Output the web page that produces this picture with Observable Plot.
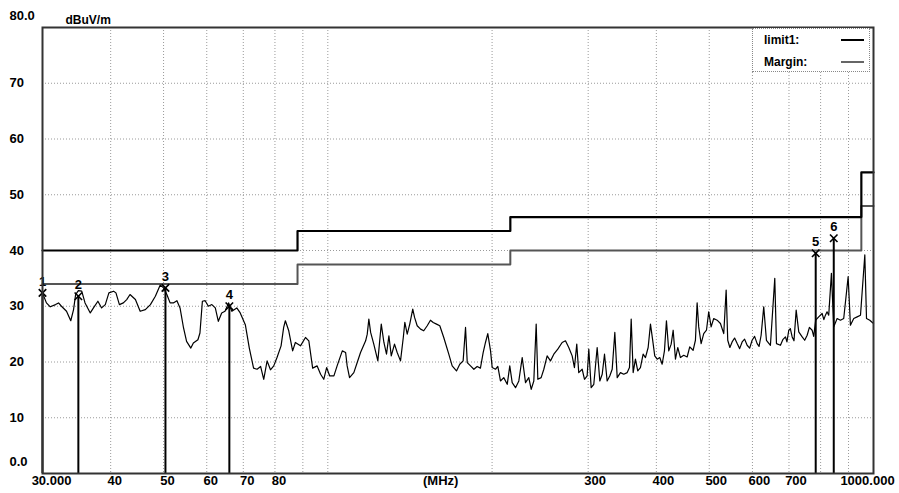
<!DOCTYPE html>
<html><head><meta charset="utf-8">
<script src="https://cdn.jsdelivr.net/npm/d3@7"></script>
<script src="https://cdn.jsdelivr.net/npm/@observablehq/plot@0.6"></script>
<style>
body{margin:0;background:#fff;}
#wrap{position:relative;width:899px;height:493px;font-family:"Liberation Sans",Arial,sans-serif;}
#legend{position:absolute;left:752px;top:28px;width:116px;height:42px;border:1px dotted #888;background:#fff;font-weight:bold;font-size:12px;}
#legend .row{position:absolute;left:11px;}
#legend .sw{position:absolute;left:88px;width:23px;}
</style></head><body>
<div id="wrap"><div id="chart"></div>
<div id="legend">
 <div class="row" style="top:4px">limit1:</div><div class="sw" style="top:10px;border-top:2px solid #000"></div>
 <div class="row" style="top:26px">Margin:</div><div class="sw" style="top:32px;border-top:2px solid #666"></div>
</div></div>
<script>
// ---- data ----
const traceFreq = [
30.0,30.5,31.0,31.7,32.1,32.5,33.2,33.8,34.2,34.5,34.9,35.4,35.9,36.7,37.2,37.9,38.5,39.1,39.7,40.5,
40.9,41.5,42.2,42.8,43.4,44.4,45.3,46.3,47.3,48.3,49.3,50.0,50.7,51.4,52.1,52.9,53.6,54.4,55.1,56.1,
56.7,57.8,58.3,58.9,59.6,60.4,61.3,62.2,63.0,63.9,64.8,65.8,66.7,68.1,69.1,70.6,71.8,73.1,
74.2,75.3,76.3,77.4,78.5,79.6,80.7,82.1,83.0,83.6,84.8,86.2,87.2,89.1,91.0,92.3,93.8,95.6,97.0,98.3,
99.5,100.8,102.6,104.0,106.3,107.8,108.5,109.6,111.6,113.2,114.8,117.3,118.1,118.9,119.8,121.4,123.5,125.3,126.7,128.1,
129.4,130.7,132.5,134.0,135.9,137.5,138.4,139.8,141.3,143.1,144.2,145.8,147.9,149.9,152.1,154.2,156.0,158.2,160.4,163.1,
166.6,169.0,172.1,174.5,177.0,178.8,
180.1,182.6,185.2,187.8,190.4,192.6,194.5,196.4,198.7,200.1,202.9,204.9,207.2,210.1,213.2,215.5,217.7,220.8,223.9,227.1,
230.3,233.5,235.9,238.5,240.9,242.6,246.0,248.8,252.3,255.9,259.5,263.9,268.8,272.6,276.4,280.4,283.1,285.9,288.3,292.5,
295.4,298.7,300.8,303.8,307.2,311.6,315.1,318.3,321.4,325.0,328.6,332.0,335.7,339.1,343.8,348.6,353.7,357.1,359.7,362.7,
366.2,369.8,374.0,378.3,382.0,386.4,390.2,394.0,397.3,401.4,405.8,409.9,413.9,417.4,421.5,425.8,429.4,433.6,437.8,442.8,
449.0,455.5,460.5,467.1,471.7,475.1,478.3,483.2,488.5,494.2,498.9,504.0,509.6,516.9,524.2,531.6,537.0,540.6,545.5,550.7,
556.5,562.6,568.5,574.5,580.5,586.7,593.0,599.2,605.5,612.0,617.0,622.4,629.3,636.5,647.3,659.3,664.0,675.3,682.0,689.7,
694.0,699.4,704.0,709.5,715.0,721.6,729.5,740.1,748.0,755.8,763.0,771.8,777.0,783.6,793.6,805.1,811.0,816.4,822.0,827.8,
837.3,845.6,857.7,869.8,881.9,898.5,907.2,920.0,933.3,946.6,964.0,970.9,984.5,1000
];
const traceLevel = [
32.4,30.6,29.9,30.3,30.6,30.0,29.1,27.4,29.4,32.1,32.8,32.7,30.6,28.8,29.7,30.9,29.7,30.3,32.4,32.7,
32.4,30.3,30.6,31.2,32.1,31.2,29.1,29.4,30.3,31.8,33.8,33.3,32.1,30.6,30.6,31.0,29.7,26.1,23.7,22.5,
23.4,24.0,25.2,30.9,31.0,30.0,30.3,29.7,27.3,28.8,29.1,30.6,29.1,29.7,28.8,26.7,22.5,18.9,
18.7,19.2,16.9,20.2,18.6,19.3,20.8,22.9,26.2,27.4,25.6,22.0,23.5,22.9,24.4,23.8,18.9,19.3,17.8,16.9,
19.0,17.5,17.5,19.3,22.0,21.7,19.3,17.2,18.1,19.9,21.7,23.8,25.0,27.7,25.3,23.2,20.2,26.8,23.5,21.4,
24.7,21.1,23.2,21.7,20.2,24.4,27.1,25.0,26.8,29.5,28.0,26.5,25.9,25.6,26.5,27.5,27.1,26.8,26.5,24.4,
21.4,19.3,18.4,19.6,20.2,26.2,
19.9,19.3,18.7,19.2,18.9,21.7,23.5,25.1,22.0,19.0,18.7,19.2,16.6,17.2,16.0,19.3,16.3,15.4,16.6,20.8,
16.3,17.2,15.1,16.6,26.8,16.9,17.2,18.7,21.1,20.2,21.4,22.3,23.5,23.8,22.6,21.1,19.0,23.2,18.1,18.7,
16.9,17.5,22.3,15.4,16.0,22.6,16.6,17.8,21.4,16.6,17.5,18.7,25.3,17.2,18.1,17.8,18.1,19.0,27.7,18.1,
20.5,18.4,19.0,21.4,20.8,22.6,26.8,23.8,21.1,20.5,20.8,19.6,22.0,27.4,22.0,23.2,25.7,20.5,22.6,20.8,
21.2,20.9,22.7,22.1,23.9,30.6,26.3,23.3,25.1,25.7,29.0,26.3,27.8,27.5,26.9,25.1,32.9,23.9,22.6,23.6,
24.3,23.3,22.4,23.6,24.1,23.0,22.5,23.9,24.6,23.3,22.8,24.8,29.9,23.9,23.0,35.0,23.3,23.0,24.0,24.5,
23.6,25.7,26.0,24.5,23.8,29.3,25.4,24.5,23.9,24.8,26.2,25.7,24.6,27.5,28.1,28.7,27.6,28.4,29.0,28.4,
35.9,26.3,27.8,27.5,27.8,35.3,26.6,27.8,28.1,28.4,39.2,27.8,27.5,26.9
];
const limitFreq = [30, 88, 216, 950, 1000];
const limit1Level = [40, 43.5, 46, 54, 54];
const marginLevel = [34, 37.5, 40, 48, 48];
const markerNo = [1, 2, 3, 4, 5, 6];
const markerFreq = [30.0, 34.9, 50.4, 66.0, 783.6, 845.6];
const markerLevel = [32.4, 31.8, 33.3, 30.0, 39.5, 42.2];
const xGrid = [40, 50, 60, 70, 80, 90, 100, 200, 300, 400, 500, 600, 700, 800, 900];
const yGrid = [10, 20, 30, 40, 50, 60, 70];
const xTickValues = [30, 40, 50, 60, 70, 80, 300, 400, 500, 600, 700, 1000];
const xTickLabels = ["30.000", "40", "50", "60", "70", "80", "300", "400", "500", "600", "700", "1000.000"];
const yTickValues = [80, 70, 60, 50, 40, 30, 20, 10, 0];
const yTickLabels = ["80.0", "70", "60", "50", "40", "30", "20", "10", "0.0"];
const xUnit = [{f: 161, label: "(MHz)"}];
const yUnit = ["dBuV/m"];

// ---- tables ----
const trace = traceFreq.map((f, i) => ({f, v: traceLevel[i]}));
const limits = limitFreq.map((f, i) => ({f, l: limit1Level[i], m: marginLevel[i]}));
const markers = markerNo.map((n, i) => ({n, f: markerFreq[i], v: markerLevel[i]}));
const xTicks = xTickValues.map((v, i) => ({v, label: xTickLabels[i]}));
const yTicks = yTickValues.map((v, i) => ({v, label: yTickLabels[i]}));
const xdx = v => v === 30 ? 9 : v === 1000 ? -6 : v >= 300 ? 7 : 4;
const ydy = v => v === 80 ? -12 : v === 0 ? -12 : 0;

const font = {fontWeight: "bold", fill: "#000"};
const chart = Plot.plot({
  width: 899, height: 493,
  marginLeft: 42, marginRight: 26, marginTop: 27, marginBottom: 20,
  style: {fontFamily: "'Liberation Sans', Arial, sans-serif", background: "#fff", overflow: "visible"},
  x: {type: "log", domain: [30, 1000], axis: null},
  y: {domain: [0, 80], axis: null},
  marks: [
    Plot.ruleX(xGrid, {stroke: "#9a9a9a", strokeDasharray: "1,2", strokeWidth: 1}),
    Plot.ruleY(yGrid, {stroke: "#9a9a9a", strokeDasharray: "1,2", strokeWidth: 1}),
    Plot.line(limits, {x: "f", y: "m", curve: "step-after", stroke: "#555", strokeWidth: 2}),
    Plot.line(limits, {x: "f", y: "l", curve: "step-after", stroke: "#000", strokeWidth: 2.2}),
    Plot.line(trace, {x: "f", y: "v", stroke: "#000", strokeWidth: 1.2}),
    Plot.ruleX(markers, {x: "f", y1: 0, y2: "v", stroke: "#000", strokeWidth: 2}),
    Plot.dot(markers, {x: "f", y: "v", symbol: "times", r: 3.5, stroke: "#000", strokeWidth: 1.6}),
    Plot.text(markers, {x: "f", y: "v", text: d => String(d.n), dy: -11, fontSize: 13, ...font}),
    Plot.frame({stroke: "#333", strokeWidth: 2}),
    ...xTicks.map(t => Plot.text([t], {x: "v", text: "label", frameAnchor: "bottom", dy: 11, dx: xdx(t.v), fontSize: 13, ...font})),
    Plot.text(xUnit, {x: "f", text: "label", frameAnchor: "bottom", dy: 11, fontSize: 13, ...font}),
    ...yTicks.map(t => Plot.text([t], {y: "v", text: "label", frameAnchor: "left", textAnchor: "start", dx: -33, dy: ydy(t.v), fontSize: 13, ...font})),
    Plot.text(yUnit, {frameAnchor: "top-left", textAnchor: "start", dx: 23, dy: -12, fontSize: 12, ...font})
  ]
});
document.getElementById("chart").appendChild(chart);
</script></body></html>
